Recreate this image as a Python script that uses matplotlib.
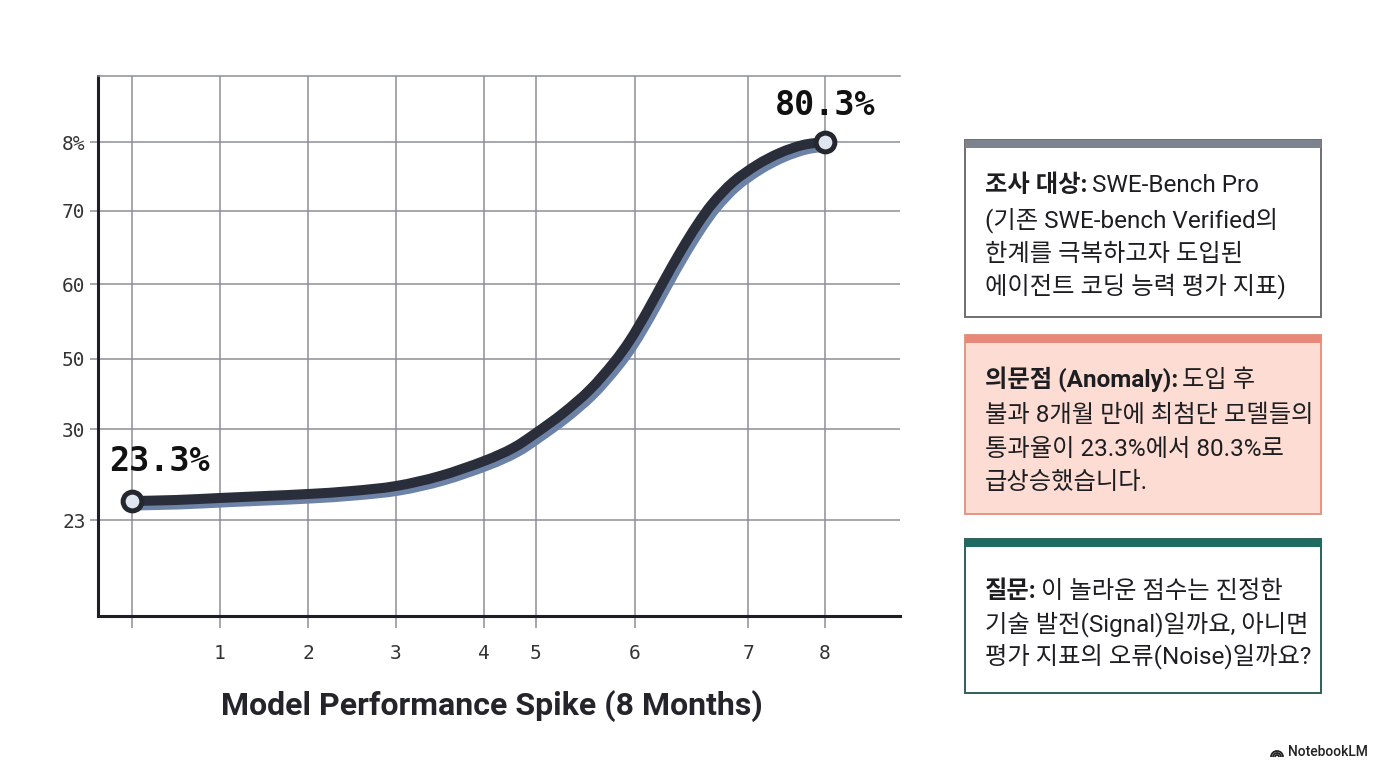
import matplotlib
matplotlib.use('Agg')
import matplotlib.pyplot as plt
from matplotlib import patheffects as pe
from matplotlib.patches import Rectangle, Arc, PathPatch
from matplotlib.path import Path

# ---------------- data ----------------
curve_x = [0.0, 0.5, 1.0, 1.5, 2.0, 2.5, 3.0, 3.5, 4.0, 4.33, 4.59, 4.90, 5.20,
           5.47, 5.66, 5.85, 6.03, 6.23, 6.42, 6.60, 6.83, 7.10, 7.36, 7.625, 7.875]
curve_y = [23.3, 23.46, 23.78, 24.09, 24.41, 24.89, 25.68, 27.27, 29.65, 31.72,
           34.10, 37.27, 40.93, 45.21, 48.86, 53.31, 57.90, 62.84, 67.12, 70.60,
           73.95, 76.65, 78.56, 79.83, 80.3]
start_label = '23.3%'
end_label = '80.3%'
x_tick_pos = [0, 1, 2, 3, 4, 4.59, 5.715, 7.0, 7.875]
x_tick_labels = ['', '1', '2', '3', '4', '5', '6', '7', '8']
y_tick_pos = [80.3, 69.35, 57.75, 45.85, 34.73, 20.28]
y_tick_labels = ['8%', '70', '60', '50', '30', '23']
x_title = 'Model Performance Spike (8 Months)'

box1_lines = [('조사 대상:', 'SWE-Bench Pro'),
              ('', '(기존 SWE-bench Verified의'),
              ('', '한계를 극복하고자 도입된'),
              ('', '에이전트 코딩 능력 평가 지표)')]
box2_lines = [('의문점 (Anomaly):', '도입 후'),
              ('', '불과 8개월 만에 최첨단 모델들의'),
              ('', '통과율이 23.3%에서 80.3%로'),
              ('', '급상승했습니다.')]
box3_lines = [('질문:', '이 놀라운 점수는 진정한'),
              ('', '기술 발전(Signal)일까요, 아니면'),
              ('', '평가 지표의 오류(Noise)일까요?')]
brand = 'NotebookLM'

# ---------------- style ----------------
KFAM = ['Roboto', 'Noto Sans CJK KR', 'DejaVu Sans']
MONO = ['DejaVu Sans Mono']
TXT = '#1d1e22'
GRID = '#8c8f99'
W, H = 1376, 768

fig = plt.figure(figsize=(W / 100, H / 100), dpi=100)
fig.patch.set_facecolor('white')

# main chart axes (pixel box: x 98..900, y 76..616)
ax = fig.add_axes([98 / W, 1 - 616 / H, (900 - 98) / W, (616 - 76) / H])
ax.set_xlim(-0.386, 8.727)
ax.set_ylim(5.04, 90.78)

ax.set_xticks(x_tick_pos)
ax.set_xticklabels(x_tick_labels)
ax.set_yticks(y_tick_pos)
ax.set_yticklabels(y_tick_labels)
ax.grid(True, color=GRID, lw=1.1, zorder=0)
ax.set_axisbelow(True)
ax.tick_params(axis='x', length=8.5, width=1.1, color=GRID, pad=12,
               labelsize=14, labelcolor='#333333')
ax.tick_params(axis='y', length=6, width=1.1, color=GRID, pad=3,
               labelsize=14, labelcolor='#333333')
for lab in ax.get_xticklabels() + ax.get_yticklabels():
    lab.set_family(MONO)

ax.spines['right'].set_visible(False)
ax.spines['top'].set_color(GRID)
ax.spines['top'].set_linewidth(1.1)
for s in ('left', 'bottom'):
    ax.spines[s].set_color('#1e1f24')
    ax.spines[s].set_linewidth(2.2)

# smooth curve through the read points (cubic Bezier segments, Catmull-Rom tangents)
pts = list(zip(curve_x, curve_y))
verts = [pts[0]]
codes = [Path.MOVETO]
n = len(pts)
for i in range(n - 1):
    p0 = pts[max(i - 1, 0)]
    p1 = pts[i]
    p2 = pts[i + 1]
    p3 = pts[min(i + 2, n - 1)]
    c1 = (p1[0] + (p2[0] - p0[0]) / 6, p1[1] + (p2[1] - p0[1]) / 6)
    c2 = (p2[0] - (p3[0] - p1[0]) / 6, p2[1] - (p3[1] - p1[1]) / 6)
    verts += [c1, c2, p2]
    codes += [Path.CURVE4] * 3
curve = PathPatch(Path(verts, codes), fill=False, edgecolor='#2a2e3b', lw=7.2,
                  capstyle='round', joinstyle='round', zorder=3,
                  path_effects=[pe.SimpleLineShadow(offset=(2.6, -3.2),
                                                    shadow_color='#6c82a6', alpha=1.0),
                                pe.Normal()])
ax.add_patch(curve)

# end markers
ax.plot([curve_x[0], curve_x[-1]], [curve_y[0], curve_y[-1]], 'o', ms=13.5,
        mfc='#dfe6f0', mec='#25272f', mew=3.6, zorder=5)

ax.annotate(start_label, xy=(curve_x[0], curve_y[0]), xytext=(19.5, 28.5),
            textcoords='offset points', ha='center', va='center', fontsize=24,
            fontweight='bold', family=MONO, color='#111111', zorder=6)
ax.annotate(end_label, xy=(curve_x[-1], curve_y[-1]), xytext=(0, 26),
            textcoords='offset points', ha='center', va='center', fontsize=24,
            fontweight='bold', family=MONO, color='#111111', zorder=6)

ax.set_xlabel(x_title, fontsize=23, fontweight='bold', family=KFAM, color='#23252b',
              va='center')
ax.xaxis.set_label_coords((492 - 98) / 802, (616 - 706) / 540)

# ---------------- overlay (right panel) ----------------
ov = fig.add_axes([0, 0, 1, 1])
ov.set_xlim(0, W)
ov.set_ylim(H, 0)
ov.axis('off')
ov.patch.set_visible(False)


def draw_box(x0, x1, top, bottom, bar_color, edge_color, fill, lines, centers, fs=17.5):
    ov.add_patch(Rectangle((x0, top), x1 - x0, bottom - top, facecolor=fill,
                           edgecolor=edge_color, lw=1.4, zorder=1))
    ov.add_patch(Rectangle((x0, top), x1 - x0, 8, facecolor=bar_color,
                           edgecolor='none', zorder=2))
    for (bold, reg), yc in zip(lines, centers):
        yb = yc + 9
        if bold:
            t = ov.text(985, yb, bold, fontsize=fs, fontweight='bold', family=KFAM,
                        va='baseline', ha='left', color=TXT, zorder=3)
            ov.annotate(reg, xy=(1, 0), xycoords=t, xytext=(3, 0),
                        textcoords='offset points', fontsize=fs, family=KFAM,
                        va='bottom', ha='left', color=TXT, zorder=3)
        else:
            ov.text(985, yb, reg, fontsize=fs, family=KFAM, va='baseline',
                    ha='left', color=TXT, zorder=3)


draw_box(965, 1321, 140, 317, '#7d828e', '#6f6f72', 'white', box1_lines,
         [183, 218, 252, 284])
draw_box(965, 1321, 335, 514, '#e8887a', '#e39684', '#fcdcd3', box2_lines,
         [378, 413, 447, 480])
draw_box(965, 1321, 539, 693, '#1e6b62', '#2f5f5a', 'white', box3_lines,
         [589, 622, 654])

# brand mark (arches opening downward, y axis inverted)
for r in (2.0, 4.0, 6.0):
    ov.add_patch(Arc((1277, 757), 2 * r, 2 * r, theta1=180, theta2=360,
                     color='#222222', lw=1.3))
ov.text(1288, 752, brand, fontsize=10, family=['Roboto', 'DejaVu Sans'],
        fontweight='medium', va='center', ha='left', color='#222222')

fig.savefig('out.png', dpi=100, facecolor='white')
